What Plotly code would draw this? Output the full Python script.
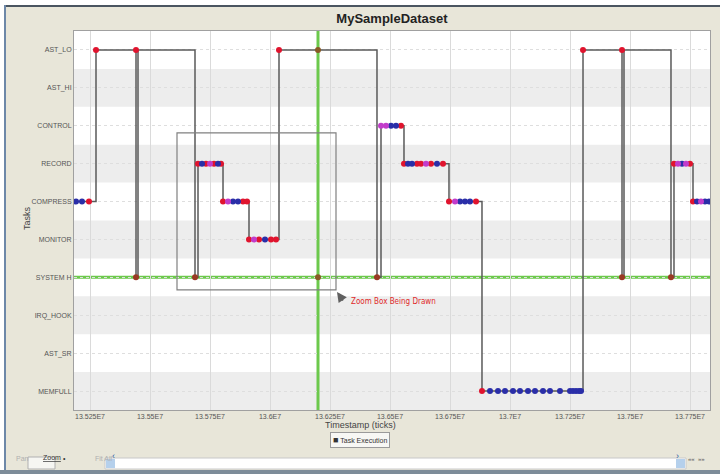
import plotly.graph_objects as go

# ---------------- data ----------------
tasks = ["AST_LO", "AST_HI", "CONTROL", "RECORD", "COMPRESS",
         "MONITOR", "SYSTEM H", "IRQ_HOOK", "AST_SR", "MEMFULL"]

tick_values = [135250000, 135500000, 135750000, 136000000, 136250000, 136500000,
               136750000, 137000000, 137250000, 137500000, 137750000]
tick_labels = ["13.525E7", "13.55E7", "13.575E7", "13.6E7", "13.625E7", "13.65E7",
               "13.675E7", "13.7E7", "13.725E7", "13.75E7", "13.775E7"]

# task-execution samples (timestamp in ticks, task, event kind)
sample_ts = [
    135175000, 135191700, 135216700, 135245800, 135275000, 135441700, 135441700,
    135450000, 135687500, 135700000, 135716700, 135733300, 135750000, 135766700,
    135783300, 135795800, 135804200, 135825000, 135845800, 135866700, 135887500,
    135904200, 135912500, 135933300, 135954200, 135979200, 136004200, 136025000,
    136037500, 136445800, 136462500, 136483300, 136504200, 136525000, 136545800,
    136558300, 136575000, 136591700, 136612500, 136629200, 136650000, 136670800,
    136695800, 136720800, 136745800, 136770800, 136791700, 136812500, 136833300,
    136858300, 136883300, 136916700, 136950000, 136979200, 137012500, 137041700,
    137075000, 137104200, 137137500, 137166700, 137208300, 137250000, 137262500,
    137275000, 137287500, 137295800, 137304200, 137466700, 137466700, 137475000,
    137670800, 137683300, 137700000, 137716700, 137733300, 137750000, 137762500,
    137779200, 137795800, 137812500, 137829200, 137841700,
]
sample_task = [
    "COMPRESS", "COMPRESS", "COMPRESS", "COMPRESS", "AST_LO", "AST_LO", "SYSTEM H",
    "AST_LO", "SYSTEM H", "RECORD", "RECORD", "RECORD", "RECORD", "RECORD",
    "RECORD", "RECORD", "COMPRESS", "COMPRESS", "COMPRESS", "COMPRESS", "COMPRESS",
    "COMPRESS", "MONITOR", "MONITOR", "MONITOR", "MONITOR", "MONITOR", "MONITOR",
    "AST_LO", "SYSTEM H", "CONTROL", "CONTROL", "CONTROL", "CONTROL", "CONTROL",
    "RECORD", "RECORD", "RECORD", "RECORD", "RECORD", "RECORD", "RECORD",
    "RECORD", "RECORD", "COMPRESS", "COMPRESS", "COMPRESS", "COMPRESS", "COMPRESS",
    "COMPRESS", "MEMFULL", "MEMFULL", "MEMFULL", "MEMFULL", "MEMFULL", "MEMFULL",
    "MEMFULL", "MEMFULL", "MEMFULL", "MEMFULL", "MEMFULL", "MEMFULL", "MEMFULL",
    "MEMFULL", "MEMFULL", "MEMFULL", "AST_LO", "AST_LO", "SYSTEM H", "AST_LO",
    "SYSTEM H", "RECORD", "RECORD", "RECORD", "RECORD", "RECORD", "COMPRESS",
    "COMPRESS", "COMPRESS", "COMPRESS", "COMPRESS", "COMPRESS",
]
sample_kind = [
    "none", "exit", "exit", "entry", "entry", "entry", "isr",
    "none", "isr", "entry", "exit", "entry", "event", "entry",
    "exit", "entry", "entry", "event", "exit", "exit", "entry",
    "entry", "entry", "event", "entry", "exit", "entry", "entry",
    "entry", "isr", "event", "event", "exit", "exit", "entry",
    "entry", "exit", "exit", "entry", "entry", "event", "entry",
    "exit", "entry", "entry", "event", "exit", "exit", "exit",
    "entry", "entry", "exit", "exit", "exit", "exit", "exit",
    "exit", "exit", "exit", "exit", "exit", "exit", "exit",
    "exit", "exit", "exit", "entry", "entry", "isr", "none",
    "isr", "entry", "event", "exit", "event", "entry", "entry",
    "exit", "event", "exit", "exit", "none",
]

crosshair_ts = 136200000
crosshair_task = "SYSTEM H"
crosshair_dot_tasks = ["AST_LO", "SYSTEM H"]

x_range = [135183333, 137833333]
zoom_box = dict(x0=135612500, x1=136275000, y0=2.19, y1=6.33)

kind_colors = {"entry": "#e0142e", "exit": "#2a2ea8", "event": "#c23ccb", "isr": "#9a3a24"}

# ---------------- figure ----------------
W, H = 720, 474
L, R, T, B = 74, 10, 31, 64
pw, ph = W - L - R, H - T - B


def px_x(px):
    return (px - L) / pw


def px_y(py):
    return (H - B - py) / ph


yidx = {t: i for i, t in enumerate(tasks)}
FONT = "Liberation Sans, Arial, sans-serif"

fig = go.Figure()

# step line
fig.add_trace(go.Scatter(
    x=sample_ts, y=[yidx[t] for t in sample_task], mode="lines",
    line=dict(color="#5a5a5a", width=1.5, shape="hv"),
    showlegend=False, hoverinfo="skip"))

# markers by kind
for kind, col in kind_colors.items():
    xs = [x for x, k in zip(sample_ts, sample_kind) if k == kind]
    ys = [yidx[t] for t, k in zip(sample_task, sample_kind) if k == kind]
    fig.add_trace(go.Scatter(
        x=xs, y=ys, mode="markers",
        marker=dict(color=col, size=6, line=dict(width=0)),
        showlegend=False, hoverinfo="skip"))

# crosshair dots
fig.add_trace(go.Scatter(
    x=[crosshair_ts] * len(crosshair_dot_tasks),
    y=[yidx[t] for t in crosshair_dot_tasks], mode="markers",
    marker=dict(color="#8a5a26", size=6), showlegend=False, hoverinfo="skip"))

shapes = []
# alternating bands
for i in range(len(tasks)):
    if i % 2 == 1:
        shapes.append(dict(type="rect", xref="paper", yref="y", x0=0, x1=1,
                           y0=i - 0.5, y1=i + 0.5, fillcolor="#ededed",
                           line=dict(width=0), layer="below"))
# crosshair
shapes.append(dict(type="line", xref="x", yref="paper", x0=crosshair_ts, x1=crosshair_ts,
                   y0=0, y1=1, line=dict(color="#6cc94c", width=3), layer="below"))
shapes.append(dict(type="line", xref="paper", yref="y", x0=0, x1=1,
                   y0=yidx[crosshair_task], y1=yidx[crosshair_task],
                   line=dict(color="#6cc94c", width=3), layer="below"))
# zoom box
shapes.append(dict(type="rect", xref="x", yref="y", **zoom_box,
                   line=dict(color="#808080", width=1.2), fillcolor="rgba(0,0,0,0)"))

# window chrome
shapes += [
    dict(type="rect", xref="paper", yref="paper", x0=px_x(0), x1=px_x(720), y0=px_y(0), y1=px_y(5),
         fillcolor="white", line=dict(width=0)),
    dict(type="rect", xref="paper", yref="paper", x0=px_x(0), x1=px_x(720), y0=px_y(5), y1=px_y(7),
         fillcolor="#4a5560", line=dict(width=0)),
    dict(type="rect", xref="paper", yref="paper", x0=px_x(0), x1=px_x(4), y0=px_y(5), y1=px_y(474),
         fillcolor="white", line=dict(width=0)),
    dict(type="rect", xref="paper", yref="paper", x0=px_x(4), x1=px_x(6), y0=px_y(5), y1=px_y(474),
         fillcolor="#6d88a8", line=dict(width=0)),
    dict(type="rect", xref="paper", yref="paper", x0=px_x(105), x1=px_x(686), y0=px_y(458), y1=px_y(469),
         fillcolor="white", line=dict(color="#c8c8c8", width=1)),
    dict(type="rect", xref="paper", yref="paper", x0=px_x(106), x1=px_x(115), y0=px_y(459), y1=px_y(468),
         fillcolor="#b5d0ec", line=dict(width=0)),
    dict(type="rect", xref="paper", yref="paper", x0=px_x(676), x1=px_x(685), y0=px_y(459), y1=px_y(468),
         fillcolor="#b5d0ec", line=dict(width=0)),
    dict(type="rect", xref="paper", yref="paper", x0=px_x(28), x1=px_x(55), y0=px_y(457), y1=px_y(469),
         fillcolor="#f6f6f2", line=dict(color="#b0b0b0", width=1)),
    dict(type="rect", xref="paper", yref="paper", x0=px_x(0), x1=px_x(720), y0=px_y(470), y1=px_y(474),
         fillcolor="#7d8c99", line=dict(width=0)),
]

small = dict(family=FONT, size=7, color="#555")
annotations = [
    dict(text="Tasks", xref="paper", yref="paper", x=px_x(20), y=px_y(218), textangle=-90,
         showarrow=False, font=dict(family=FONT, size=9, color="#444")),
    dict(text="Timestamp (ticks)", xref="paper", yref="paper", x=px_x(360), y=px_y(432),
         showarrow=False, font=dict(family=FONT, size=9, color="#444")),
    # legend box
    dict(text="<span style='font-size:9px'>■</span> Task Execution", xref="paper", yref="paper",
         x=px_x(360), y=px_y(448), showarrow=False, bgcolor="#f7f7f4", bordercolor="#9a9a9a",
         borderwidth=1, borderpad=2, font=dict(family=FONT, size=7, color="#333")),
    dict(text="Zoom Box Being Drawn", xref="paper", yref="paper", x=px_x(349), xanchor="left",
         y=px_y(308), showarrow=False,
         font=dict(family="DejaVu Sans Condensed, Liberation Sans Narrow, sans-serif",
                   size=8, color="#e02a2a")),
    dict(text="", xref="paper", yref="paper", x=px_x(337), y=px_y(292), ax=7, ay=10,
         showarrow=True, arrowhead=2, arrowsize=1, arrowwidth=2, arrowcolor="#606060"),
    dict(text="Pan", xref="paper", yref="paper", x=px_x(14), y=px_y(464), showarrow=False,
         font=dict(family=FONT, size=7, color="#b0b0b0")),
    dict(text="<u>Zoom</u>", xref="paper", yref="paper", x=px_x(41), y=px_y(463), showarrow=False,
         font=dict(family=FONT, size=7, color="#333")),
    dict(text="•", xref="paper", yref="paper", x=px_x(61), y=px_y(464), showarrow=False,
         font=dict(family=FONT, size=7, color="#333")),
    dict(text="Fit All", xref="paper", yref="paper", x=px_x(93), y=px_y(464), showarrow=False,
         font=dict(family=FONT, size=7, color="#b0b0b0")),
    dict(text="‹", xref="paper", yref="paper", x=px_x(110), y=px_y(463), showarrow=False,
         font=dict(family=FONT, size=9, color="#2a5aa0")),
    dict(text="›", xref="paper", yref="paper", x=px_x(681), y=px_y(463), showarrow=False,
         font=dict(family=FONT, size=9, color="#2a5aa0")),
    dict(text="««  »»", xref="paper", yref="paper", x=px_x(707), y=px_y(464), showarrow=False,
         font=dict(family=FONT, size=6, color="#555")),
]

fig.update_layout(
    width=W, height=H,
    margin=dict(l=L, r=R, t=T, b=B, autoexpand=False),
    paper_bgcolor="#e8e6d9",
    plot_bgcolor="white",
    showlegend=False,
    title=dict(text="<b>MySampleDataset</b>", x=0.5, xref="paper", y=1 - 18 / H, yanchor="middle",
               font=dict(family=FONT, size=13, color="#222")),
    xaxis=dict(range=x_range, tickvals=tick_values, ticktext=tick_labels, tickfont=small,
               showgrid=True, gridcolor="#dadada", gridwidth=1, zeroline=False,
               showline=True, mirror=True, linecolor="#a0a0a0", linewidth=1, ticks="",
               automargin=False),
    yaxis=dict(range=[len(tasks) - 0.5, -0.5], tickvals=list(range(len(tasks))), ticktext=tasks,
               tickfont=small, showgrid=True, gridcolor="#dedede", griddash="dot", gridwidth=1,
               zeroline=False, showline=True, mirror=True, linecolor="#a0a0a0", linewidth=1,
               ticks="", automargin=False),
    shapes=shapes,
    annotations=annotations,
)

fig.write_html(
    "out.html",
    config={"displayModeBar": False},
    post_script="document.body.style.margin='0';document.body.style.overflow='hidden';",
)
